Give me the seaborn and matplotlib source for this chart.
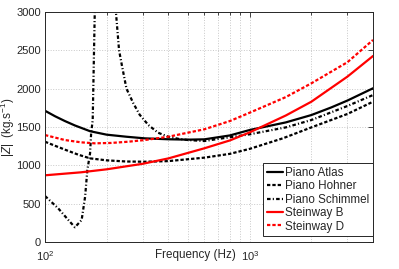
#!/usr/bin/env python
# -*- coding: utf-8 -*-

"""Impedance magnitude of several pianos vs frequency."""

import pandas as pd
import seaborn as sns
import matplotlib.pyplot as plt
from matplotlib.ticker import LogLocator, LogFormatterSciNotation, MultipleLocator, NullFormatter

# %% Values (Hz, kg/s).

freq_atlas = [100, 112, 125, 140, 166, 200, 250, 307, 400, 500, 600, 800, 1000, 1500, 2000, 2500, 3000, 4000]
z_atlas = [1712, 1640, 1578, 1520, 1445, 1400, 1373, 1352, 1340, 1335, 1339, 1390, 1461, 1560, 1656, 1755, 1845, 2005]

freq_hohner = [100, 112, 125, 145, 166, 200, 250, 307, 400, 600, 800, 1000, 1450, 2000, 3000, 4000]
z_hohner = [1308, 1255, 1205, 1140, 1091, 1065, 1050, 1047, 1055, 1100, 1150, 1215, 1352, 1495, 1670, 1830]

freq_schimmel = [100, 116, 130, 140, 151, 157, 161, 166, 168, 171, 175, 178, 218, 222, 230,
                 238, 250, 270, 290, 320, 357, 400, 450, 500, 600, 1000, 1500, 2000, 3000, 4000]
z_schimmel = [600, 439, 287, 192, 287, 591, 939, 1157, 1418, 1591, 3000, 4500, 4500, 3000, 2500,
              2290, 2000, 1810, 1660, 1525, 1425, 1373, 1345, 1330, 1317, 1405, 1495, 1591, 1774, 1917]

freq_steinway_b = [100, 150, 200, 300, 400, 600, 800, 1000, 1500, 2000, 3000, 4000]
z_steinway_b = [870, 909, 948, 1020, 1090, 1222, 1325, 1430, 1650, 1830, 2157, 2426]

freq_steinway_d = [100, 125, 150, 175, 210, 255, 307, 400, 600, 800, 1000, 1500, 2000, 3000, 4000]
z_steinway_d = [1395, 1330, 1300, 1287, 1292, 1308, 1330, 1373, 1470, 1578, 1687, 1890, 2070, 2345, 2635]

series = {
    "Piano Atlas": (freq_atlas, z_atlas),
    "Piano Hohner": (freq_hohner, z_hohner),
    "Piano Schimmel": (freq_schimmel, z_schimmel),
    "Steinway B": (freq_steinway_b, z_steinway_b),
    "Steinway D": (freq_steinway_d, z_steinway_d),
}

frames = []
for name, (f, z) in series.items():
    frames.append(pd.DataFrame({"freq": f, "Z": z, "piano": name}))
data = pd.concat(frames, ignore_index=True)

# %% Plot.

sns.set_style("white")
plt.rcParams["font.family"] = ["Liberation Sans", "DejaVu Sans"]
plt.rcParams["mathtext.fontset"] = "custom"
plt.rcParams["mathtext.rm"] = "Liberation Sans"
plt.rcParams["mathtext.it"] = "Liberation Sans:italic"
plt.rcParams["mathtext.bf"] = "Liberation Sans:bold"

fig = plt.figure(figsize=(3.99, 2.69), dpi=100)
ax = fig.add_axes([45 / 399, 1 - 242 / 269, 328 / 399, 230 / 269])

colors = {
    "Piano Atlas": "black",
    "Piano Hohner": "black",
    "Piano Schimmel": "black",
    "Steinway B": "#ff0000",
    "Steinway D": "#ff0000",
}
dashes = {
    "Piano Atlas": "",
    "Piano Hohner": (1.5, 0.9),
    "Piano Schimmel": (1.6, 1.0, 0.5, 1.0),
    "Steinway B": "",
    "Steinway D": (1.5, 0.9),
}

sns.lineplot(data=data, x="freq", y="Z", hue="piano", style="piano",
             palette=colors, dashes=dashes, estimator=None, sort=False,
             linewidth=1.6, ax=ax)

ax.set_xscale("log")
ax.set_xlim(100, 4000)
ax.set_ylim(0, 3000)

ax.xaxis.set_major_locator(LogLocator(base=10))
ax.xaxis.set_major_formatter(LogFormatterSciNotation())
ax.xaxis.set_minor_locator(LogLocator(base=10, subs=range(2, 10)))
ax.xaxis.set_minor_formatter(NullFormatter())
ax.yaxis.set_major_locator(MultipleLocator(500))

ax.grid(True, which="both", axis="x", color="#c8c8c8", linestyle=":", linewidth=0.7)
ax.grid(True, which="major", axis="y", color="#c8c8c8", linestyle=":", linewidth=0.7)

ax.tick_params(which="both", direction="in", top=True, right=True,
               labelsize=8, color="#262626", width=0.6)
ax.tick_params(axis="x", pad=5)
ax.tick_params(axis="y", pad=3)
ax.tick_params(which="major", length=3.5)
ax.tick_params(which="minor", length=2)
for spine in ax.spines.values():
    spine.set_color("#262626")
    spine.set_linewidth(0.7)

ax.set_xlabel("Frequency (Hz)", fontsize=8.4)
ax.xaxis.set_label_coords(0.457, -0.03)
ax.set_ylabel("$|Z|$  (kg.s$^{-1}$)", fontsize=8.4)
ax.yaxis.set_label_coords(-0.085, 0.5)

leg = ax.legend(loc="lower right", bbox_to_anchor=(1.0, 0.026), borderaxespad=0,
                fontsize=8.4, frameon=True, fancybox=False, framealpha=1,
                edgecolor="#262626", handlelength=1.4, handletextpad=0.2,
                labelspacing=0.12, borderpad=0.3, title=None)
leg.get_frame().set_linewidth(0.7)

fig.savefig("out.png", dpi=100)
